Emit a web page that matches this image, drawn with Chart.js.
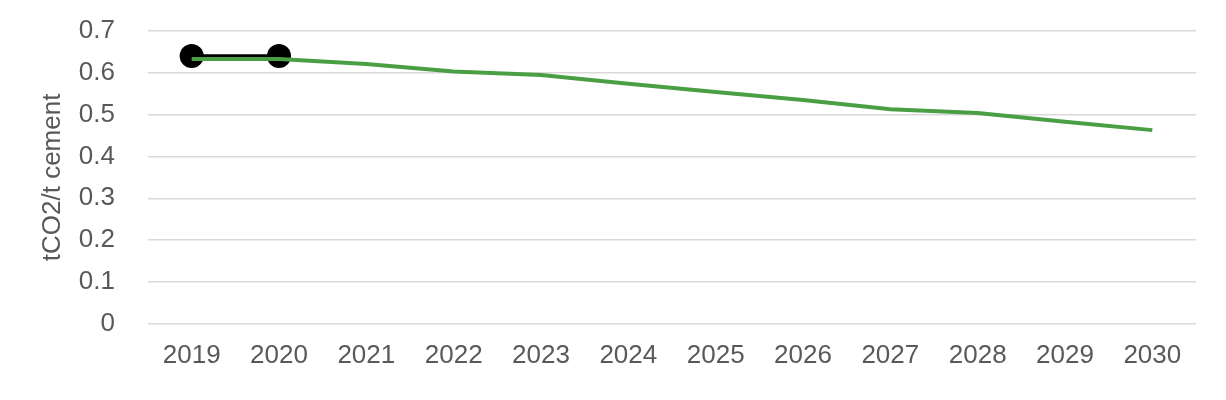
<!DOCTYPE html>
<html>
<head>
<meta charset="utf-8">
<script src="https://cdn.jsdelivr.net/npm/chart.js@4/dist/chart.umd.min.js"></script>
<style>
  html, body { margin: 0; padding: 0; background: #fff; }
  #wrap { width: 1226px; height: 400px; }
</style>
</head>
<body>
<div id="wrap"><canvas id="chart"></canvas></div>
<script>
const years = ["2019", "2020", "2021", "2022", "2023", "2024", "2025", "2026", "2027", "2028", "2029", "2030"];
const actual = [0.64, 0.64, null, null, null, null, null, null, null, null, null, null];
const pathway = [0.633, 0.633, 0.621, 0.603, 0.595, 0.574, 0.554, 0.535, 0.513, 0.504, 0.483, 0.463];
const yTicks = [0, 0.1, 0.2, 0.3, 0.4, 0.5, 0.6, 0.7];

Chart.defaults.font.family = "'Liberation Sans', Arial, sans-serif";
Chart.defaults.color = "#595959";

new Chart(document.getElementById("chart"), {
  type: "line",
  data: {
    labels: years,
    datasets: [
      {
        label: "Pathway",
        data: pathway,
        borderColor: "#4a9f45",
        borderWidth: 4,
        pointRadius: 0,
        tension: 0,
        order: 0,
      },
      {
        label: "Actual",
        data: actual,
        borderColor: "#000",
        backgroundColor: "#000",
        borderWidth: 3.5,
        pointRadius: 12,
        pointBackgroundColor: "#000",
        pointBorderWidth: 0,
        spanGaps: false,
        order: 1,
      },
    ],
  },
  options: {
    responsive: true,
    maintainAspectRatio: false,
    animation: false,
    layout: { padding: { left: 33, right: 30, top: 31, bottom: 21 } },
    plugins: {
      legend: { display: false },
      tooltip: { enabled: false },
    },
    scales: {
      x: {
        offset: true,
        grid: { display: false },
        border: { display: false },
        ticks: { font: { size: 26 }, padding: 8, maxRotation: 0 },
      },
      y: {
        min: 0,
        max: 0.7,
        afterBuildTicks: (axis) => {
          axis.ticks = yTicks.map((v) => ({ value: v }));
        },
        // chart.js doubles the tick padding in the axis width, so fix it here
        afterFit: (axis) => {
          axis.width = 115;
          axis.paddingTop = 0;
          axis.paddingBottom = 0;
        },
        grid: { color: "#d9d9d9", lineWidth: 1.5, drawTicks: false },
        border: { display: false },
        ticks: { font: { size: 26 }, padding: 33 },
        title: {
          display: true,
          text: "tCO2/t cement",
          font: { size: 26 },
          padding: { top: 4, bottom: 0 },
        },
      },
    },
  },
});
</script>
</body>
</html>
